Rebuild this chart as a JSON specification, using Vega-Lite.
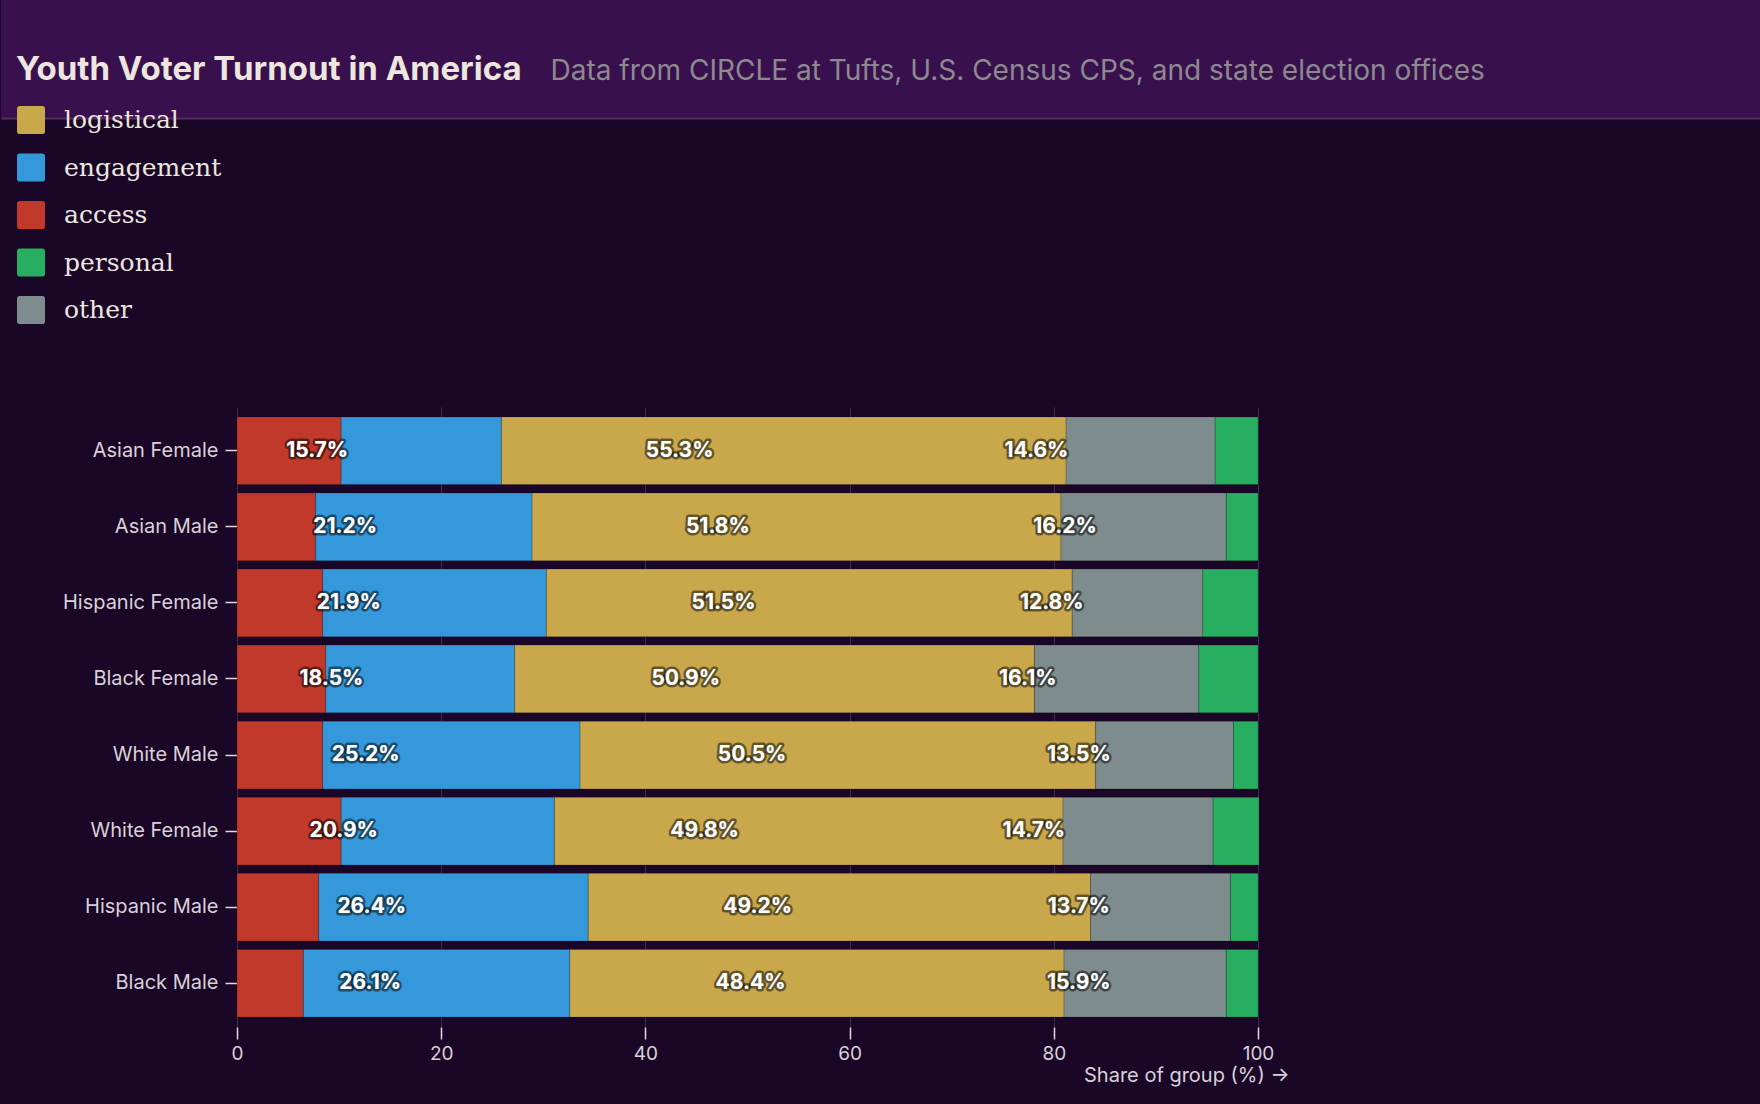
{
  "$schema": "https://vega.github.io/schema/vega-lite/v6.json",
  "background": "#1a0626",
  "padding": {"left": 0, "top": 0, "right": 0, "bottom": 22},
  "spacing": -27,
  "config": {"view": {"stroke": null}, "font": "Inter"},
  "title": {
    "text": "Data from CIRCLE at Tufts, U.S. Census CPS, and state election offices",
    "anchor": "start", "orient": "top", "offset": -86, "dx": 550,
    "font": "Inter", "fontSize": 28, "fontWeight": "normal", "color": "#8d8a8f"
  },
  "resolve": {"scale": {"color": "independent"}, "legend": {"color": "independent"}},
  "datasets": {
    "turnout": [
      {"group": "Asian Female", "category": "access", "share": 10.2},
      {"group": "Asian Female", "category": "engagement", "share": 15.7},
      {"group": "Asian Female", "category": "logistical", "share": 55.3},
      {"group": "Asian Female", "category": "other", "share": 14.6},
      {"group": "Asian Female", "category": "personal", "share": 4.2},
      {"group": "Asian Male", "category": "access", "share": 7.7},
      {"group": "Asian Male", "category": "engagement", "share": 21.2},
      {"group": "Asian Male", "category": "logistical", "share": 51.8},
      {"group": "Asian Male", "category": "other", "share": 16.2},
      {"group": "Asian Male", "category": "personal", "share": 3.1},
      {"group": "Hispanic Female", "category": "access", "share": 8.4},
      {"group": "Hispanic Female", "category": "engagement", "share": 21.9},
      {"group": "Hispanic Female", "category": "logistical", "share": 51.5},
      {"group": "Hispanic Female", "category": "other", "share": 12.8},
      {"group": "Hispanic Female", "category": "personal", "share": 5.4},
      {"group": "Black Female", "category": "access", "share": 8.7},
      {"group": "Black Female", "category": "engagement", "share": 18.5},
      {"group": "Black Female", "category": "logistical", "share": 50.9},
      {"group": "Black Female", "category": "other", "share": 16.1},
      {"group": "Black Female", "category": "personal", "share": 5.8},
      {"group": "White Male", "category": "access", "share": 8.4},
      {"group": "White Male", "category": "engagement", "share": 25.2},
      {"group": "White Male", "category": "logistical", "share": 50.5},
      {"group": "White Male", "category": "other", "share": 13.5},
      {"group": "White Male", "category": "personal", "share": 2.4},
      {"group": "White Female", "category": "access", "share": 10.2},
      {"group": "White Female", "category": "engagement", "share": 20.9},
      {"group": "White Female", "category": "logistical", "share": 49.8},
      {"group": "White Female", "category": "other", "share": 14.7},
      {"group": "White Female", "category": "personal", "share": 4.5},
      {"group": "Hispanic Male", "category": "access", "share": 8.0},
      {"group": "Hispanic Male", "category": "engagement", "share": 26.4},
      {"group": "Hispanic Male", "category": "logistical", "share": 49.2},
      {"group": "Hispanic Male", "category": "other", "share": 13.7},
      {"group": "Hispanic Male", "category": "personal", "share": 2.7},
      {"group": "Black Male", "category": "access", "share": 6.5},
      {"group": "Black Male", "category": "engagement", "share": 26.1},
      {"group": "Black Male", "category": "logistical", "share": 48.4},
      {"group": "Black Male", "category": "other", "share": 15.9},
      {"group": "Black Male", "category": "personal", "share": 3.1}
    ]
  },
  "vconcat": [
    {
      "width": 1760,
      "height": 118,
      "view": {"fill": "#38104d", "stroke": null},
      "title": {
        "text": "Youth Voter Turnout in America",
        "anchor": "start", "orient": "top", "offset": -87, "dx": 15,
        "font": "Inter", "fontSize": 33, "fontWeight": "bold", "color": "#ece6df"
      },
      "data": {"values": [{"x": 0}]},
      "mark": {"type": "rule", "strokeOpacity": 0},
      "encoding": {
        "x": {
          "field": "x", "type": "quantitative",
          "scale": {"domain": [0, 1]},
          "axis": {"orient": "bottom", "domain": true, "domainColor": "#5b2c5f", "domainWidth": 2, "ticks": false, "labels": false, "grid": false, "title": null}
        }
      }
    },
    {
      "resolve": {"scale": {"color": "independent"}, "legend": {"color": "independent"}},
      "spacing": 0,
      "hconcat": [
        {
          "width": 1,
          "height": 1,
          "data": {"values": [{"x": 0}]},
          "mark": {"type": "rule", "strokeOpacity": 0},
          "encoding": {}
        },
        {
          "width": 1021,
          "height": 620,
          "data": {"name": "turnout"},
          "layer": [
            {
              "mark": {"type": "bar", "stroke": "#000000", "strokeOpacity": 0.18, "strokeWidth": 1},
              "encoding": {
                "y": {
                  "field": "group", "type": "nominal",
                  "sort": ["Asian Female", "Asian Male", "Hispanic Female", "Black Female", "White Male", "White Female", "Hispanic Male", "Black Male"],
                  "scale": {"paddingInner": 0.11, "paddingOuter": 0.13},
                  "axis": {"title": null, "domain": false, "grid": false, "ticks": true, "tickSize": 12, "tickColor": "#e0dae0", "tickWidth": 1.5, "labelFont": "Inter", "labelFontSize": 20, "labelColor": "#d8d2d8", "labelPadding": 7}
                },
                "x": {
                  "field": "share", "type": "quantitative", "stack": "zero",
                  "title": "Share of group (%) →",
                  "scale": {"domain": [0, 100], "nice": false},
                  "axis": {"values": [0, 20, 40, 60, 80, 100], "domain": false, "grid": true, "gridColor": "#3d2c4a", "gridWidth": 1, "ticks": true, "tickSize": 12, "tickColor": "#e0dae0", "tickWidth": 1.5, "labelFont": "Inter", "labelFontSize": 19, "labelColor": "#d8d2d8", "labelPadding": 5, "labelFlush": false, "titleFont": "Inter", "titleFontSize": 20, "titleFontWeight": "normal", "titleColor": "#d8d2d8", "titleX": 1052, "titleY": 38, "titleAlign": "right", "titleBaseline": "top"}
                },
                "color": {
                  "field": "category", "type": "nominal",
                  "scale": {"domain": ["logistical", "engagement", "access", "personal", "other"], "range": ["#c9a84c", "#3498db", "#c0392b", "#27ae60", "#7f8c8d"]},
                  "legend": {"title": null, "orient": "none", "legendX": -235, "legendY": -316, "padding": 15, "fillColor": "rgba(0,0,0,0)", "symbolType": "M-1,-0.8Q-1,-1,-0.8,-1L0.8,-1Q1,-1,1,-0.8L1,0.8Q1,1,0.8,1L-0.8,1Q-1,1,-1,0.8Z", "symbolSize": 784, "symbolStrokeWidth": 0, "symbolOpacity": 1, "labelFont": "DejaVu Serif", "labelFontSize": 25, "labelColor": "#ece6df", "labelOffset": 19, "rowPadding": 19.5, "labelLimit": 400}
                },
                "order": {"field": "category", "type": "nominal", "sort": "ascending"}
              }
            },
            {
              "transform": [
                {"filter": "datum.share >= 12"},
                {"stack": "share", "groupby": ["group"], "sort": [{"field": "category", "order": "ascending"}], "as": ["s0", "s1"]},
                {"calculate": "(datum.s0 + datum.s1) / 2", "as": "mid"},
                {"calculate": "format(datum.share, '.1f') + '%'", "as": "label"}
              ],
              "encoding": {
                "y": {"field": "group", "type": "nominal", "sort": ["Asian Female", "Asian Male", "Hispanic Female", "Black Female", "White Male", "White Female", "Hispanic Male", "Black Male"]},
                "x": {"field": "mid", "type": "quantitative", "title": "Share of group (%) →"},
                "text": {"field": "label", "type": "nominal"}
              },
              "layer": [
                {"mark": {"type": "text", "font": "Inter", "fontSize": 21, "fontWeight": "bold", "fill": "#ffffff", "stroke": "#000000", "strokeOpacity": 0.5, "strokeWidth": 5, "strokeJoin": "round"}},
                {"mark": {"type": "text", "font": "Inter", "fontSize": 21, "fontWeight": "bold", "fill": "#ffffff"}}
              ]
            }
          ]
        }
      ]
    }
  ]
}
